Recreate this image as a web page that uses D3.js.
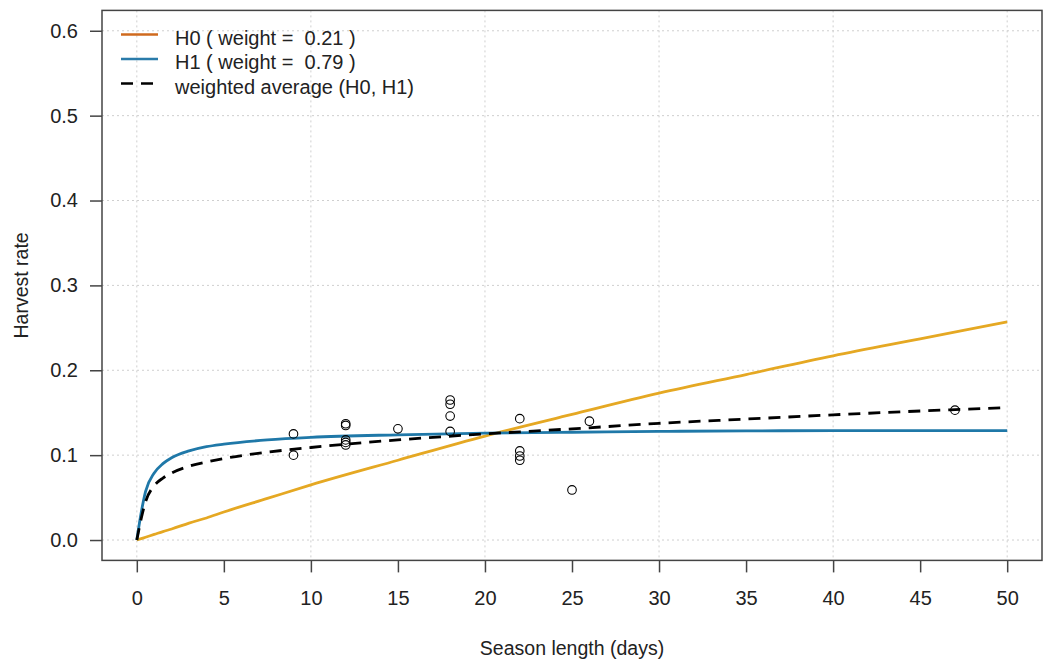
<!DOCTYPE html>
<html>
<head>
<meta charset="utf-8">
<script src="https://cdn.jsdelivr.net/npm/d3@7"></script>
<style>
  html, body { margin: 0; padding: 0; background: #fff; }
  svg { display: block; }
  text { font-family: "Liberation Sans", Arial, sans-serif; fill: #222; }
  .legend-label { white-space: pre; }
</style>
</head>
<body>
<svg id="chart" width="1046" height="660"></svg>
<script>
// Model curves sampled along the season length axis
const curveDays = [0, 0.25, 0.5, 1, 1.5, 2, 3, 4, 5, 7.5, 10, 15, 20, 25, 30, 35, 40, 45, 50];
const h0Rate    = [0, 0.0016, 0.0033, 0.0066, 0.010, 0.013, 0.020, 0.026, 0.033, 0.049, 0.065, 0.094, 0.1225, 0.148, 0.173, 0.195, 0.217, 0.237, 0.257];
const h1Rate    = [0, 0.032, 0.057, 0.079, 0.090, 0.097, 0.105, 0.110, 0.113, 0.118, 0.121, 0.124, 0.126, 0.127, 0.128, 0.1285, 0.129, 0.129, 0.129];
const avgRate   = [0, 0.025, 0.045, 0.064, 0.073, 0.079, 0.087, 0.092, 0.096, 0.1035, 0.109, 0.118, 0.125, 0.131, 0.1375, 0.1425, 0.1475, 0.152, 0.156];

// Observed harvest rates
const obsDays = [9, 9, 12, 12, 12, 12, 12, 15, 18, 18, 18, 18, 22, 22, 22, 22, 25, 26, 47];
const obsRate = [0.125, 0.100, 0.137, 0.135, 0.118, 0.115, 0.112, 0.131, 0.165, 0.160, 0.146, 0.128, 0.143, 0.105, 0.099, 0.094, 0.059, 0.140, 0.153];

// Axis ticks and legend entries
const xTicks = [0, 5, 10, 15, 20, 25, 30, 35, 40, 45, 50];
const yTicks = [0, 0.1, 0.2, 0.3, 0.4, 0.5, 0.6];
const xGrid = [0, 10, 20, 30, 40, 50];
const legendLabels = ["H0 ( weight =  0.21 )", "H1 ( weight =  0.79 )", "weighted average (H0, H1)"];

const svg = d3.select("#chart");
const box = { left: 102, right: 1042, top: 10.4, bottom: 560.4 };

const x = d3.scaleLinear().domain([-2, 52]).range([box.left, box.right]);
const y = d3.scaleLinear().domain([-0.024, 0.624]).range([box.bottom, box.top]);

svg.append("rect").attr("width", 1046).attr("height", 660).attr("fill", "#fff");

// Dotted grid
const grid = svg.append("g").attr("stroke", "#cfcfcf").attr("stroke-width", 1).attr("stroke-dasharray", "2,3");
grid.selectAll(".gx").data(xGrid).join("line")
  .attr("x1", d => x(d)).attr("x2", d => x(d))
  .attr("y1", box.top).attr("y2", box.bottom);
grid.selectAll(".gy").data(yTicks).join("line")
  .attr("x1", box.left).attr("x2", box.right)
  .attr("y1", d => y(d)).attr("y2", d => y(d));

// Axes
const fmtY = d3.format(".1f");
const xAxis = svg.append("g")
  .attr("transform", `translate(0,${box.bottom})`)
  .call(d3.axisBottom(x).tickValues(xTicks).tickSize(12).tickPadding(18).tickSizeOuter(0));
const yAxis = svg.append("g")
  .attr("transform", `translate(${box.left},0)`)
  .call(d3.axisLeft(y).tickValues(yTicks).tickFormat(fmtY).tickSize(12).tickPadding(12).tickSizeOuter(0));
[xAxis, yAxis].forEach(g => {
  g.select(".domain").remove();
  g.selectAll(".tick line").attr("stroke", "#444").attr("stroke-width", 1.5);
  g.selectAll(".tick text").attr("font-size", 20).attr("fill", "#222")
    .style("font-family", "'Liberation Sans', Arial, sans-serif");
});

// Plot frame
svg.append("rect")
  .attr("x", box.left).attr("y", box.top)
  .attr("width", box.right - box.left).attr("height", box.bottom - box.top)
  .attr("fill", "none").attr("stroke", "#444").attr("stroke-width", 1.5);

// Curves
const line = vals => d3.line()
  .x((d, i) => x(curveDays[i]))
  .y(d => y(d))
  .curve(d3.curveMonotoneX)(vals);

svg.append("path").attr("d", line(h0Rate))
  .attr("fill", "none").attr("stroke", "#E5A823").attr("stroke-width", 2.8);
svg.append("path").attr("d", line(h1Rate))
  .attr("fill", "none").attr("stroke", "#1F78A8").attr("stroke-width", 2.8);
svg.append("path").attr("d", line(avgRate))
  .attr("fill", "none").attr("stroke", "#000").attr("stroke-width", 2.8)
  .attr("stroke-dasharray", "12,8");

// Observations
svg.append("g").selectAll("circle").data(obsDays).join("circle")
  .attr("cx", d => x(d))
  .attr("cy", (d, i) => y(obsRate[i]))
  .attr("r", 4.3)
  .attr("fill", "none").attr("stroke", "#000").attr("stroke-width", 1.1);

// Legend
const legendColors = ["#CF6A1E", "#2A7BAA", "#000"];
const legendDash = [null, null, "12,8"];
const leg = svg.append("g");
legendLabels.forEach((label, i) => {
  const ly = 34.5 + i * 24.5;
  leg.append("line")
    .attr("x1", 121).attr("x2", 158 + (i === 2 ? 3 : 0))
    .attr("y1", ly).attr("y2", ly)
    .attr("stroke", legendColors[i]).attr("stroke-width", 2.6)
    .attr("stroke-dasharray", legendDash[i]);
  leg.append("text")
    .attr("class", "legend-label")
    .attr("xml:space", "preserve")
    .attr("x", 175).attr("y", ly + 3)
    .attr("dominant-baseline", "central")
    .attr("font-size", 20)
    .text(label);
});

// Axis titles
svg.append("text")
  .attr("x", x(25)).attr("y", 648)
  .attr("text-anchor", "middle").attr("dominant-baseline", "central")
  .attr("font-size", 19.5)
  .text("Season length (days)");
svg.append("text")
  .attr("transform", `translate(21,${(box.top + box.bottom) / 2}) rotate(-90)`)
  .attr("text-anchor", "middle").attr("dominant-baseline", "central")
  .attr("font-size", 19.5)
  .text("Harvest rate");
</script>
</body>
</html>
